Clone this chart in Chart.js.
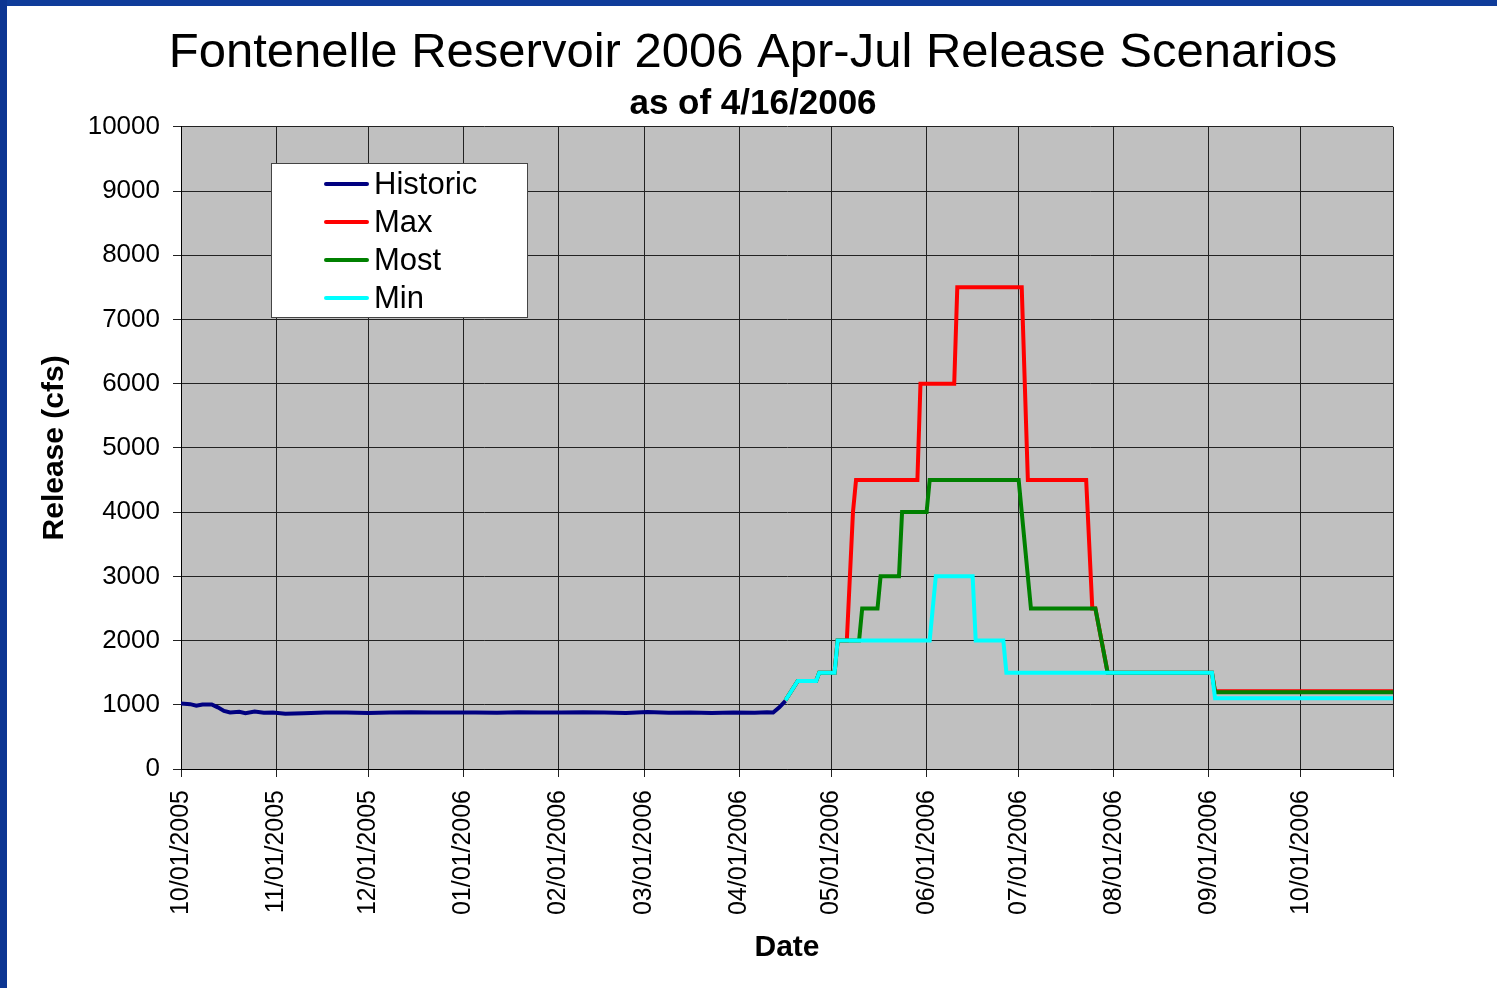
<!DOCTYPE html>
<html>
<head>
<meta charset="utf-8">
<script src="https://cdn.jsdelivr.net/npm/chart.js@4.4.1/dist/chart.umd.min.js"></script>
<style>
  html, body { margin: 0; padding: 0; background: #fff; }
  #wrap { position: relative; width: 1497px; height: 988px; overflow: hidden; }
  #barTop { position: absolute; left: 0; top: 0; width: 1497px; height: 6px; background: #0f3c9a; }
  #barLeft { position: absolute; left: 0; top: 0; width: 7px; height: 988px; background: #0c3592; }
  canvas { position: absolute; left: 0; top: 0; }
</style>
</head>
<body>
<div id="wrap">
  <canvas id="releaseChart" width="1497" height="988"></canvas>
  <div id="barTop"></div>
  <div id="barLeft"></div>
</div>
<script>
// values (cfs)
const historicDates = ['10/01/2005', '10/04/2005', '10/06/2005', '10/08/2005', '10/11/2005', '10/13/2005',
    '10/15/2005', '10/17/2005', '10/20/2005', '10/22/2005', '10/25/2005', '10/28/2005', '10/31/2005',
    '11/04/2005', '11/10/2005', '11/17/2005', '11/24/2005', '12/01/2005', '12/08/2005', '12/15/2005',
    '12/22/2005', '12/29/2005', '01/05/2006', '01/12/2006', '01/19/2006', '01/26/2006', '02/02/2006',
    '02/09/2006', '02/16/2006', '02/23/2006', '03/02/2006', '03/09/2006', '03/16/2006', '03/23/2006',
    '03/30/2006', '04/06/2006', '04/10/2006', '04/12/2006', '04/14/2006', '04/16/2006'];
const historicValues = [1020, 1010, 985, 1005, 1005, 960,
    905, 880, 890, 870, 895, 875, 880,
    860, 870, 878, 880, 872, 878, 885,
    880, 878, 880, 875, 882, 880, 878,
    885, 880, 872, 888, 875, 880, 872,
    880, 875, 885, 880, 960, 1060];

const maxDates = ['04/16/2006', '04/20/2006', '04/26/2006', '04/27/2006', '05/02/2006', '05/03/2006',
    '05/06/2006', '05/08/2006', '05/09/2006', '05/29/2006', '05/30/2006', '06/10/2006', '06/11/2006',
    '07/02/2006', '07/04/2006', '07/23/2006', '07/25/2006', '07/26/2006', '07/30/2006', '09/02/2006',
    '09/03/2006', '10/31/2006'];
const maxValues = [1070, 1370, 1370, 1500, 1500, 2000,
    2000, 4000, 4500, 4500, 6000, 6000, 7500,
    7500, 4500, 4500, 2500, 2500, 1500, 1500,
    1210, 1210];

const mostDates = ['04/16/2006', '04/20/2006', '04/26/2006', '04/27/2006', '05/02/2006', '05/03/2006',
    '05/10/2006', '05/11/2006', '05/16/2006', '05/17/2006', '05/23/2006', '05/24/2006', '06/01/2006',
    '06/02/2006', '07/01/2006', '07/05/2006', '07/26/2006', '07/30/2006', '09/02/2006', '09/03/2006',
    '10/31/2006'];
const mostValues = [1070, 1370, 1370, 1500, 1500, 2000,
    2000, 2500, 2500, 3000, 3000, 4000, 4000,
    4500, 4500, 2500, 2500, 1500, 1500, 1195,
    1195];

const minDates = ['04/16/2006', '04/20/2006', '04/26/2006', '04/27/2006', '05/02/2006', '05/03/2006',
    '06/02/2006', '06/04/2006', '06/16/2006', '06/17/2006', '06/26/2006', '06/27/2006', '09/02/2006',
    '09/03/2006', '10/31/2006'];
const minValues = [1070, 1370, 1370, 1500, 1500, 2000,
    2000, 3000, 3000, 2000, 2000, 1500, 1500,
    1100, 1100];

const monthTicks = ['10/01/2005', '11/01/2005', '12/01/2005', '01/01/2006', '02/01/2006', '03/01/2006',
    '04/01/2006', '05/01/2006', '06/01/2006', '07/01/2006', '08/01/2006', '09/01/2006', '10/01/2006'];
const axisStart = '10/01/2005';
const axisEnd = '10/31/2006';

const FONT = "'Liberation Sans', Arial, sans-serif";
const DAY = 86400000;
const T0 = Date.UTC(2005, 9, 1);

const toDay = s => {
    const [m, d, y] = s.split('/').map(Number);
    return Math.round((Date.UTC(y, m - 1, d) - T0) / DAY);
};
const fmtDay = v => {
    const d = new Date(T0 + v * DAY);
    const p = n => String(n).padStart(2, '0');
    return p(d.getUTCMonth() + 1) + '/' + p(d.getUTCDate()) + '/' + d.getUTCFullYear();
};
const points = (dates, values) => dates.map((s, i) => ({ x: toDay(s), y: values[i] }));

const tickDays = monthTicks.map(toDay);
const endDay = toDay(axisEnd);

const line = (label, dates, values, color, order) => ({
    label: label,
    data: points(dates, values),
    borderColor: color,
    backgroundColor: color,
    borderWidth: 4,
    pointRadius: 0,
    tension: 0,
    order: order
});

const plotBackground = {
    id: 'plotBackground',
    beforeDraw(chart) {
        const { ctx, chartArea: a } = chart;
        ctx.save();
        ctx.fillStyle = '#c0c0c0';
        ctx.fillRect(a.left, a.top, a.right - a.left, a.bottom - a.top);
        ctx.restore();
    }
};

// legend box drawn inside the plot, in dataset order
const boxLegend = {
    id: 'boxLegend',
    afterDraw(chart) {
        const ctx = chart.ctx;
        const x = 271, y = 163, w = 256, h = 154;
        ctx.save();
        ctx.fillStyle = '#fff';
        ctx.fillRect(x, y, w, h);
        ctx.strokeStyle = '#444';
        ctx.lineWidth = 1;
        ctx.strokeRect(x + 0.5, y + 0.5, w, h);
        ctx.font = '31px ' + FONT;
        ctx.textBaseline = 'middle';
        chart.data.datasets.forEach((ds, i) => {
            const cy = y + 21 + i * 38;
            ctx.strokeStyle = ds.borderColor;
            ctx.lineWidth = 4;
            ctx.lineCap = 'round';
            ctx.beginPath();
            ctx.moveTo(x + 55, cy);
            ctx.lineTo(x + 96, cy);
            ctx.stroke();
            ctx.fillStyle = '#000';
            ctx.fillText(ds.label, x + 103, cy + 1);
        });
        ctx.restore();
    }
};

const ctx = document.getElementById('releaseChart').getContext('2d');

new Chart(ctx, {
    type: 'line',
    data: {
        datasets: [
            line('Historic', historicDates, historicValues, '#000080', 3),
            line('Max', maxDates, maxValues, '#ff0000', 2),
            line('Most', mostDates, mostValues, '#008000', 1),
            line('Min', minDates, minValues, '#00ffff', 0)
        ]
    },
    options: {
        responsive: false,
        animation: false,
        layout: { padding: { left: 37, right: 28, top: 8, bottom: 22 } },
        plugins: {
            legend: { display: false },
            tooltip: { enabled: false },
            title: {
                display: true,
                text: 'Fontenelle Reservoir 2006 Apr-Jul Release Scenarios',
                color: '#000',
                font: { family: FONT, size: 49, weight: 'normal' },
                padding: { top: 16, bottom: 0 }
            },
            subtitle: {
                display: true,
                text: 'as of 4/16/2006',
                color: '#000',
                font: { family: FONT, size: 35, weight: 'bold' },
                padding: { top: 1, bottom: 1 }
            }
        },
        scales: {
            x: {
                type: 'linear',
                min: toDay(axisStart),
                max: endDay,
                afterBuildTicks: scale => {
                    scale.ticks = tickDays.concat([endDay]).map(v => ({ value: v }));
                },
                afterFit: scale => { scale.height = 197; },
                ticks: {
                    autoSkip: false,
                    maxRotation: 90,
                    minRotation: 90,
                    padding: 13,
                    color: '#000',
                    font: { family: FONT, size: 25 },
                    callback: v => (v === endDay ? '' : fmtDay(v))
                },
                grid: { color: '#222', lineWidth: 1, tickLength: 8 },
                border: { color: '#000', width: 1 },
                title: {
                    display: true,
                    text: 'Date',
                    color: '#000',
                    font: { family: FONT, size: 30, weight: 'bold' },
                    padding: { top: 0, bottom: 0 }
                }
            },
            y: {
                min: 0,
                max: 10000,
                afterFit: scale => { scale.width = 144; },
                ticks: {
                    stepSize: 1000,
                    padding: 13,
                    color: '#000',
                    font: { family: FONT, size: 26 },
                    callback: v => String(v)
                },
                grid: { color: '#222', lineWidth: 1, tickLength: 8 },
                border: { color: '#000', width: 1 },
                title: {
                    display: true,
                    text: 'Release (cfs)',
                    color: '#000',
                    font: { family: FONT, size: 30, weight: 'bold' },
                    padding: { top: 0, bottom: 0 }
                }
            },
            // empty right-hand spacer so the titles centre on the page like the original
            spacer: {
                type: 'linear',
                position: 'right',
                afterFit: scale => { scale.width = 76; },
                ticks: { display: false },
                grid: { display: false },
                border: { display: false }
            }
        }
    },
    plugins: [plotBackground, boxLegend]
});
</script>
</body>
</html>
